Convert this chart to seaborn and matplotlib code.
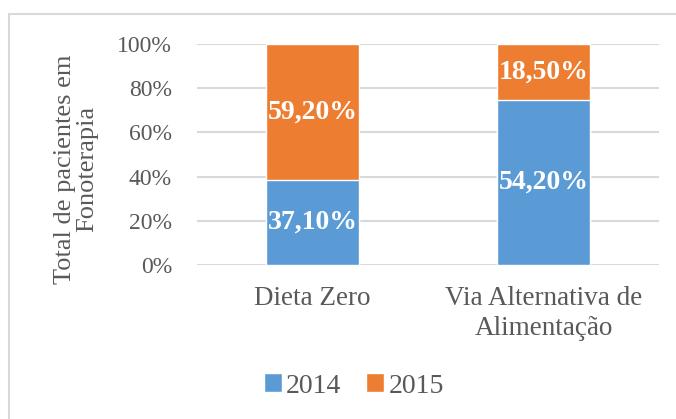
#!/usr/bin/env python

import sys

from matplotlib import pyplot as plt
from matplotlib.patches import Patch, Rectangle
from matplotlib.ticker import PercentFormatter
import pandas as pd
import seaborn as sns

CATEGORIES = ['Dieta Zero', 'Via Alternativa de\nAlimentação']
YEARS = ['2014', '2015']
VALUES_2014 = [37.10, 54.20]
VALUES_2015 = [59.20, 18.50]
YTICKS = [0.0, 0.2, 0.4, 0.6, 0.8, 1.0]

BLUE = '#5B9BD5'
ORANGE = '#ED7D31'
GREY = '#595959'
GRID = '#D9D9D9'


def main():
  data = pd.DataFrame({'categoria': CATEGORIES,
                       '2014': VALUES_2014,
                       '2015': VALUES_2015})
  total = data['2014'] + data['2015']
  data['share_2014'] = data['2014'] / total
  data['share_top'] = (data['2014'] + data['2015']) / total

  sns.set_style('white')
  plt.rcParams['font.family'] = ['Liberation Serif', 'DejaVu Serif']

  fig = plt.figure(figsize=(6.76, 4.19), dpi=100)
  fig.patches.append(Rectangle((9 / 676, -0.2), 1.2, 1.2 - 15 / 419 + 0.002,
                               transform=fig.transFigure, fill=False,
                               edgecolor=GRID, linewidth=1.5))
  ax = fig.add_axes([197 / 676, 1 - 265 / 419, 462 / 676, 221 / 419])

  # stacked: full-height orange bar under the blue 2014 share
  sns.barplot(data=data, x='categoria', y='share_top', color=ORANGE,
              saturation=1, width=0.4, ax=ax, zorder=3)
  sns.barplot(data=data, x='categoria', y='share_2014', color=BLUE,
              saturation=1, width=0.4, ax=ax, zorder=3)

  for i, row in data.iterrows():
    lo = row['share_2014'] / 2
    hi = (row['share_2014'] + row['share_top']) / 2
    ax.text(i, lo, f"{row['2014']:.2f}%".replace('.', ','), ha='center',
            va='center', color='white', fontsize=20, fontweight='bold',
            zorder=5)
    ax.text(i, hi, f"{row['2015']:.2f}%".replace('.', ','), ha='center',
            va='center', color='white', fontsize=20, fontweight='bold',
            zorder=5)

  ax.set_xlim(-0.5, 1.5)
  ax.set_ylim(0, 1)
  ax.set_yticks(YTICKS)
  ax.yaxis.set_major_formatter(PercentFormatter(1.0, decimals=0))
  ax.grid(axis='y', color=GRID, linewidth=1.5, zorder=0)
  ax.set_axisbelow(True)
  for side in ['top', 'right', 'left', 'bottom']:
    ax.spines[side].set_visible(False)
  ax.tick_params(axis='y', length=0, pad=18, labelsize=17, labelcolor=GREY)
  ax.tick_params(axis='x', length=0, pad=15, labelsize=19.5, labelcolor=GREY)
  for lab in ax.get_xticklabels():
    lab.set_linespacing(1.25)
  ax.set_xlabel('')
  ax.set_ylabel('')

  fig.text(76 / 676, 1 - 169 / 419, 'Total de pacientes em\nFonoterapia',
           rotation=90, ha='center', va='center', multialignment='center',
           fontsize=19, color=GREY, linespacing=1.05)

  handles = [Patch(facecolor=BLUE, label=YEARS[0]),
             Patch(facecolor=ORANGE, label=YEARS[1])]
  leg = fig.legend(handles=handles, loc='center', ncol=2, frameon=False,
                   bbox_to_anchor=(354 / 676, 1 - 386 / 419),
                   handlelength=0.65, handleheight=0.65, handletextpad=0.15,
                   columnspacing=0.9, fontsize=20)
  for t in leg.get_texts():
    t.set_color(GREY)

  fig.savefig('out.png', dpi=100)
  plt.close('all')


##############################################
if __name__ == '__main__':
  sys.exit(main())
